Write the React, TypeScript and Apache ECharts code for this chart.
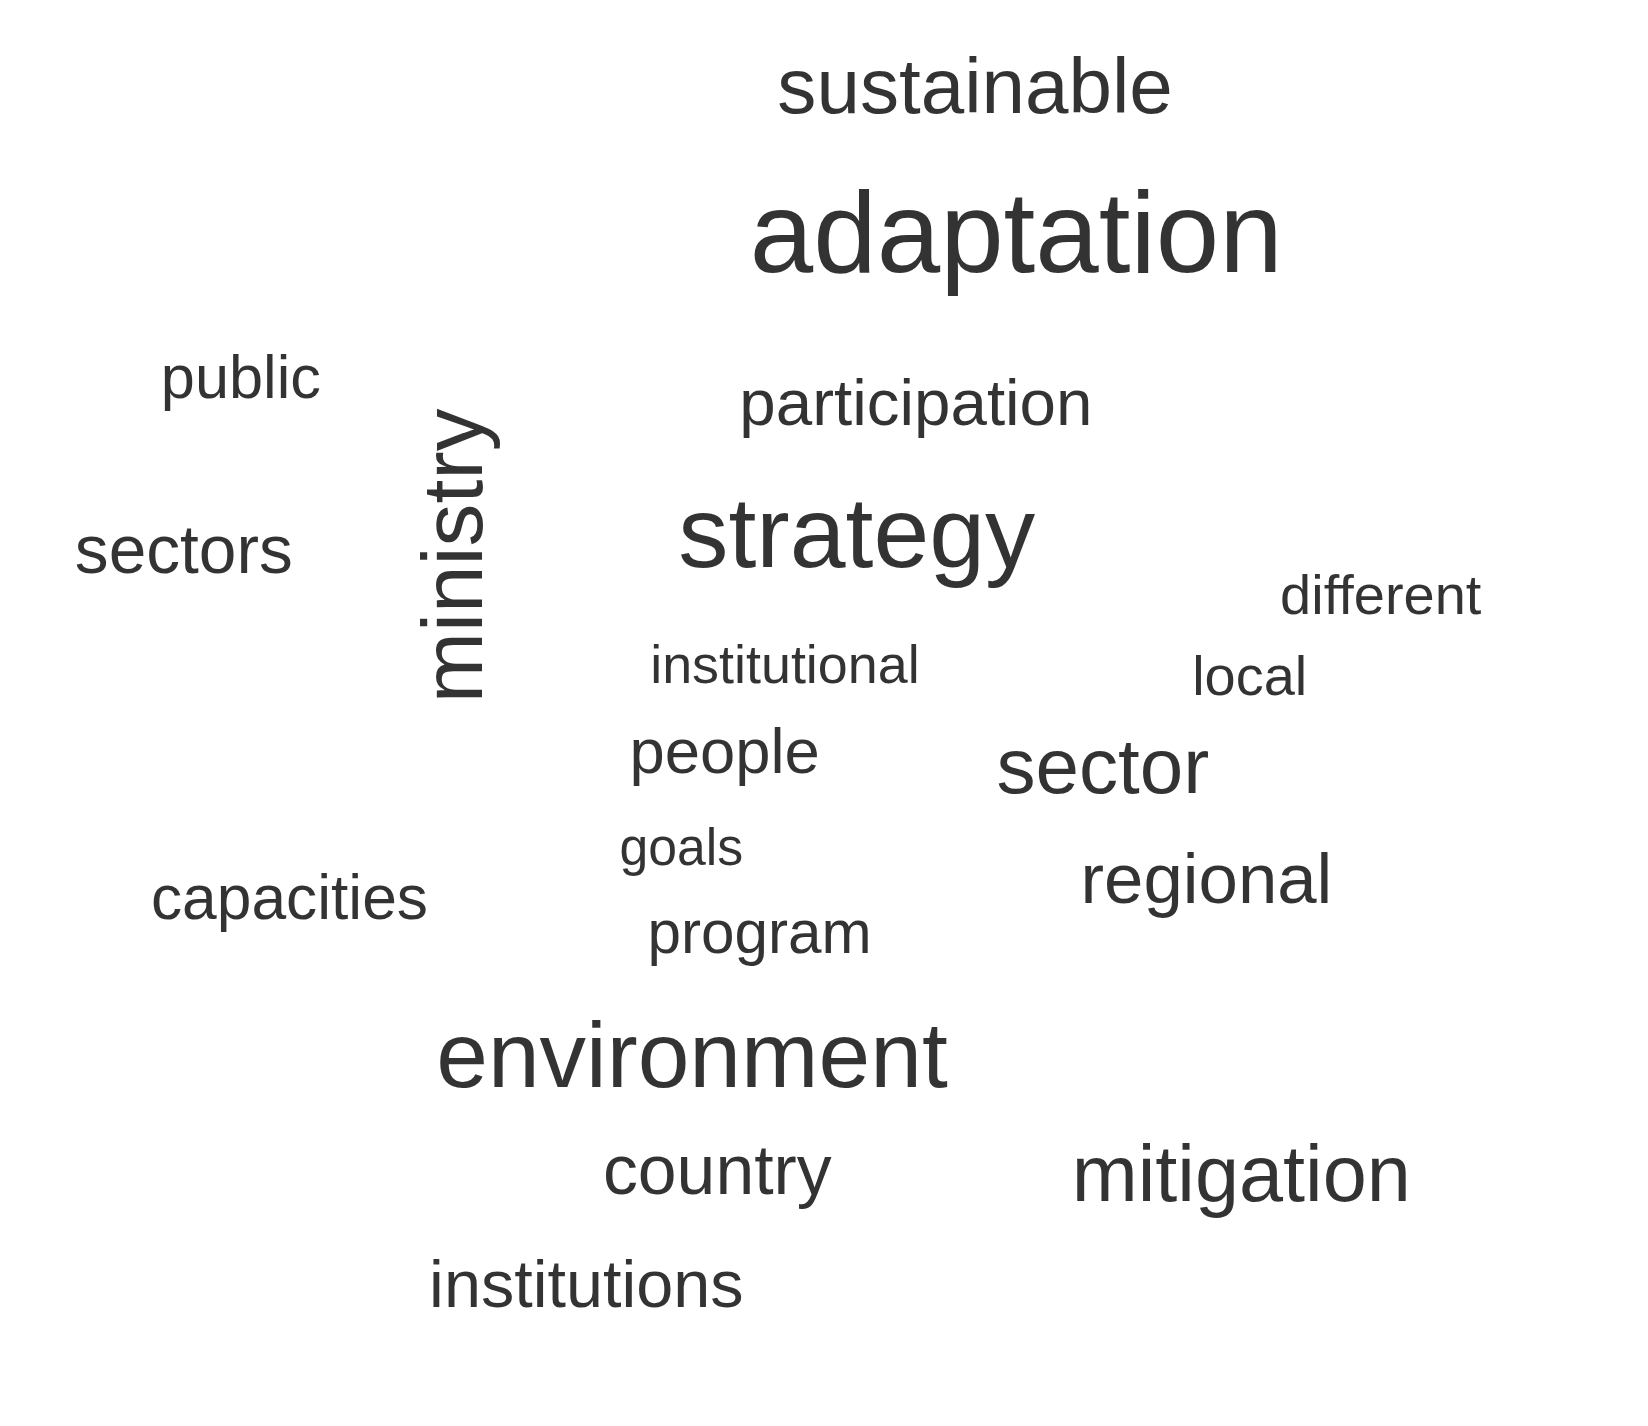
import React, { useEffect, useRef } from 'react';
import * as echarts from 'echarts';

// words and their weight (font size) with position in the cloud
const words = ['sustainable', 'adaptation', 'public', 'participation', 'ministry', 'sectors', 'strategy', 'different', 'institutional', 'local', 'people', 'sector', 'goals', 'regional', 'capacities', 'program', 'environment', 'country', 'mitigation', 'institutions'];
const sizes = [74, 108, 58, 62, 81, 64, 95, 53, 51, 53, 60, 74, 49, 67, 59, 57, 88, 66, 75, 63];
const xPos = [923, 962, 228, 867, 428, 174, 811, 1307, 743, 1183, 686, 1044, 645, 1142, 274, 719, 655, 679, 1175, 555];
const yPos = [88, 230, 362, 387, 519, 526, 512, 568, 633, 644, 716, 732, 806, 838, 855, 887, 1007, 1114, 1118, 1221];
const rotations = [0, 0, 0, 0, 90, 0, 0, 0, 0, 0, 0, 0, 0, 0, 0, 0, 0, 0, 0, 0];

const SCALE = 1648 / 1560;

const App = () => {
  const chartRef = useRef(null);

  useEffect(() => {
    if (!chartRef.current) return;
    const chart = echarts.init(chartRef.current, null, { renderer: 'svg' });

    const data = words.map((w, i) => ({
      name: w,
      value: [xPos[i], yPos[i]],
      label: {
        show: true,
        formatter: w,
        position: 'inside',
        fontSize: sizes[i] * SCALE,
        rotate: rotations[i],
        offset: rotations[i] ? [-0.09 * sizes[i] * SCALE, 0] : [0, -0.09 * sizes[i] * SCALE],
      },
    }));

    chart.setOption({
      animation: false,
      backgroundColor: '#ffffff',
      grid: { left: 0, right: 0, top: 0, bottom: 0 },
      xAxis: { type: 'value', min: 0, max: 1560, show: false },
      yAxis: { type: 'value', min: 0, max: 1350, inverse: true, show: false },
      series: [
        {
          type: 'scatter',
          symbolSize: 0,
          itemStyle: { color: 'transparent' },
          label: {
            color: '#000000',
            fontFamily: 'Liberation Sans, Arial, sans-serif',
            align: 'center',
            verticalAlign: 'middle',
          },
          data,
        },
      ],
    });

    return () => {
      chart.dispose();
    };
  }, []);

  return <div ref={chartRef} style={{ width: '1648px', height: '1426px', margin: '-8px' }} />;
};

export default App;
